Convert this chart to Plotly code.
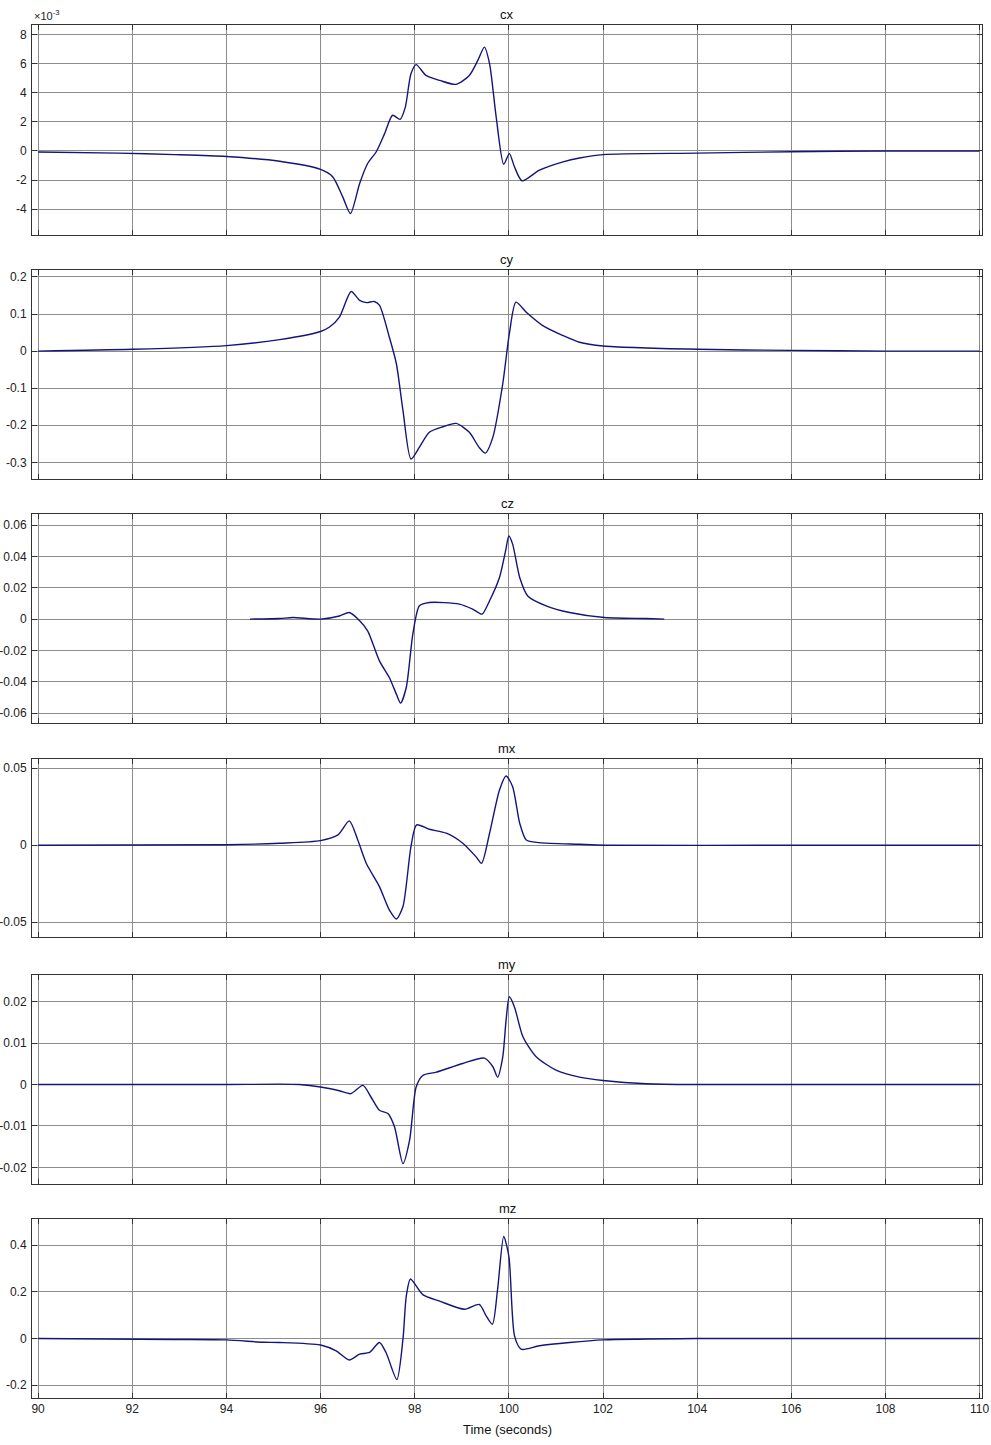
import plotly.graph_objects as go

# ---------------- data ----------------
# cx values are in units of 1e-3
cx_t = [90, 91.7, 92.9, 94.0, 95.13, 96.0, 96.26, 96.47, 96.635, 96.83, 97.0, 97.18, 97.36, 97.53,
        97.69, 97.80, 97.92, 98.03, 98.24, 98.53, 98.88, 99.16, 99.34, 99.48, 99.59, 99.73, 99.89,
        100.01, 100.12, 100.28, 100.65, 101.15, 101.5, 102, 104, 106, 108, 110]
cx = [-0.07, -0.15, -0.25, -0.38, -0.71, -1.27, -1.78, -3.15, -4.29, -2.23, -0.86, -0.07, 1.19, 2.45,
      2.17, 3.01, 5.3, 5.92, 5.18, 4.84, 4.57, 5.18, 6.21, 7.12, 5.98, 2.33, -0.91,
      -0.18, -1.1, -2.05, -1.32, -0.75, -0.48, -0.25, -0.15, -0.05, 0.0, 0.0]

cy_t = [90, 92, 94, 95.13, 96.0, 96.19, 96.40, 96.65, 96.83, 96.98, 97.14, 97.25, 97.46, 97.61,
        97.75, 97.92, 98.10, 98.31, 98.60, 98.88, 99.16, 99.37, 99.50, 99.66, 99.87, 100.01,
        100.15, 100.37, 100.72, 101.15, 101.5, 102, 104, 106, 108, 110]
cy = [0.0, 0.005, 0.015, 0.031, 0.053, 0.065, 0.092, 0.161, 0.137, 0.131, 0.134, 0.124, 0.038, -0.034,
      -0.16, -0.291, -0.259, -0.219, -0.204, -0.195, -0.219, -0.26, -0.275, -0.232, -0.088, 0.047,
      0.132, 0.105, 0.069, 0.042, 0.024, 0.014, 0.005, 0.002, 0.0, 0.0]

cz_t = [94.5, 95.13, 95.41, 96.0, 96.40, 96.61, 96.83, 97.0, 97.25, 97.46, 97.61, 97.70, 97.82, 97.96,
        98.10, 98.31, 98.95, 99.23, 99.43, 99.59, 99.80, 99.93, 100.0, 100.08, 100.23, 100.40,
        100.79, 101.29, 102.03, 102.92, 103.3]
cz = [0.0, 0.0004, 0.001, 0.0, 0.002, 0.0042, -0.001, -0.0075, -0.0266, -0.0372, -0.0478, -0.0535,
      -0.0436, -0.0096, 0.0085, 0.0106, 0.0096, 0.0064, 0.0032, 0.0117, 0.0265, 0.0435, 0.053, 0.0478,
      0.0265, 0.0148, 0.0085, 0.0042, 0.001, 0.0004, 0.0]

mx_t = [90, 94, 95.13, 96.0, 96.37, 96.61, 96.79, 96.97, 97.25, 97.46, 97.61, 97.75, 97.92, 98.04,
        98.31, 98.67, 99.02, 99.30, 99.42, 99.59, 99.80, 99.94, 100.08, 100.23, 100.37, 100.65,
        101.5, 102.03, 106, 110]
mx = [0.0, 0.0003, 0.0013, 0.003, 0.0067, 0.0158, 0.0034, -0.0117, -0.0269, -0.042, -0.0479, -0.0398,
      -0.0009, 0.0132, 0.0104, 0.0078, 0.0013, -0.0074, -0.0117, 0.0078, 0.0359, 0.045, 0.038,
      0.0143, 0.0034, 0.0017, 0.0006, 0.0, 0.0, 0.0]

my_t = [90, 94, 95.13, 95.55, 96.0, 96.40, 96.64, 96.90, 97.07, 97.25, 97.43, 97.57, 97.75, 97.89,
        98.03, 98.17, 98.46, 99.02, 99.48, 99.66, 99.76, 99.87, 99.94, 100.01, 100.12, 100.30,
        100.58, 101.0, 101.5, 102.0, 102.92, 104, 110]
my = [0.0, 0.0, 0.0001, 0.0, -0.0006, -0.0015, -0.0022, -0.0002, -0.003, -0.0062, -0.007, -0.0102,
      -0.0191, -0.0135, -0.0006, 0.0022, 0.003, 0.0051, 0.0064, 0.0043, 0.0018, 0.0067, 0.0155,
      0.0212, 0.0187, 0.0115, 0.0067, 0.0035, 0.0018, 0.001, 0.0002, 0.0, 0.0]

mz_t = [90, 92.86, 94, 94.77, 95.13, 96.0, 96.33, 96.61, 96.83, 97.04, 97.25, 97.39, 97.62, 97.75,
        97.82, 97.91, 98.17, 98.53, 99.06, 99.37, 99.52, 99.65, 99.76, 99.89, 100.0, 100.12,
        100.26, 100.65, 101.29, 102.0, 104, 110]
mz = [0.0, -0.004, -0.006, -0.016, -0.017, -0.028, -0.053, -0.092, -0.067, -0.06, -0.017, -0.06,
      -0.176, -0.003, 0.181, 0.255, 0.188, 0.16, 0.125, 0.146, 0.096, 0.061, 0.21, 0.437, 0.352,
      0.011, -0.046, -0.031, -0.017, -0.006, 0.0, 0.0]

titles = ["cx", "cy", "cz", "mx", "my", "mz"]
x_ticks = [90, 92, 94, 96, 98, 100, 102, 104, 106, 108, 110]

y_ticks = [
    [-4, -2, 0, 2, 4, 6, 8],
    [-0.3, -0.2, -0.1, 0, 0.1, 0.2],
    [-0.06, -0.04, -0.02, 0, 0.02, 0.04, 0.06],
    [-0.05, 0, 0.05],
    [-0.02, -0.01, 0, 0.01, 0.02],
    [-0.2, 0, 0.2, 0.4],
]
y_ranges = [
    [-5.76, 8.64],
    [-0.345, 0.219],
    [-0.0664, 0.0668],
    [-0.0594, 0.056],
    [-0.024, 0.0264],
    [-0.255, 0.511],
]
domains = [
    [0.8471, 1.0],
    [0.6693, 0.8216],
    [0.4914, 0.6436],
    [0.3360, 0.4654],
    [0.1559, 0.3079],
    [0.0, 0.1302],
]

series = [(cx_t, cx), (cy_t, cy), (cz_t, cz), (mx_t, mx), (my_t, my), (mz_t, mz)]

LINE = "#14147a"
FONT = "Liberation Sans, Arial, sans-serif"

fig = go.Figure()
layout = dict(
    width=991, height=1445,
    margin=dict(l=32, r=9, t=25, b=47),
    paper_bgcolor="white", plot_bgcolor="white",
    showlegend=False,
    font=dict(family=FONT, size=12, color="#222"),
)

annotations = []
for i, ((t, v), title) in enumerate(zip(series, titles)):
    n = i + 1
    xa = "x" if n == 1 else f"x{n}"
    ya = "y" if n == 1 else f"y{n}"
    fig.add_trace(go.Scatter(x=t, y=v, mode="lines",
                             line=dict(color=LINE, width=1.4, shape="spline", smoothing=0.7),
                             xaxis=xa, yaxis=ya, hoverinfo="skip"))
    xkey = "xaxis" if n == 1 else f"xaxis{n}"
    ykey = "yaxis" if n == 1 else f"yaxis{n}"
    layout[xkey] = dict(
        domain=[0, 1], anchor=ya, range=[89.87, 110.05],
        tickvals=x_ticks, ticktext=[str(x) for x in x_ticks],
        showticklabels=(n == 6),
        showgrid=True, gridcolor="#8c8c8c", gridwidth=1,
        showline=True, linecolor="#333", linewidth=1, mirror="ticks",
        ticks="inside", ticklen=5, tickcolor="#333",
        zeroline=False, automargin=False,
        tickfont=dict(family=FONT, size=12, color="#222"),
    )
    yt = y_ticks[i]
    layout[ykey] = dict(
        domain=domains[i], anchor=xa, range=y_ranges[i],
        tickvals=yt, ticktext=[("%g" % y) for y in yt],
        showgrid=True, gridcolor="#8c8c8c", gridwidth=1,
        showline=True, linecolor="#333", linewidth=1, mirror="ticks",
        ticks="inside", ticklen=5, tickcolor="#333",
        zeroline=False, automargin=False, ticklabelstandoff=2,
        tickfont=dict(family=FONT, size=12, color="#222"),
    )
    annotations.append(dict(text=title, x=0.5, y=domains[i][1], xref="paper", yref="paper",
                            xanchor="center", yanchor="bottom", yshift=1, showarrow=False,
                            font=dict(family=FONT, size=13, color="#111")))

annotations.append(dict(text="×10<sup>-3</sup>", x=0, y=1, xref="paper", yref="paper",
                        xanchor="left", yanchor="bottom", xshift=0, yshift=1, showarrow=False,
                        font=dict(family=FONT, size=11, color="#222")))
annotations.append(dict(text="Time (seconds)", x=0.5, y=0, xref="paper", yref="paper",
                        xanchor="center", yanchor="top", yshift=-22, showarrow=False,
                        font=dict(family=FONT, size=13, color="#111")))
layout["annotations"] = annotations

fig.update_layout(**layout)
fig.write_html("out.html", config={"displayModeBar": False},
               post_script="document.body.style.margin='0';")
